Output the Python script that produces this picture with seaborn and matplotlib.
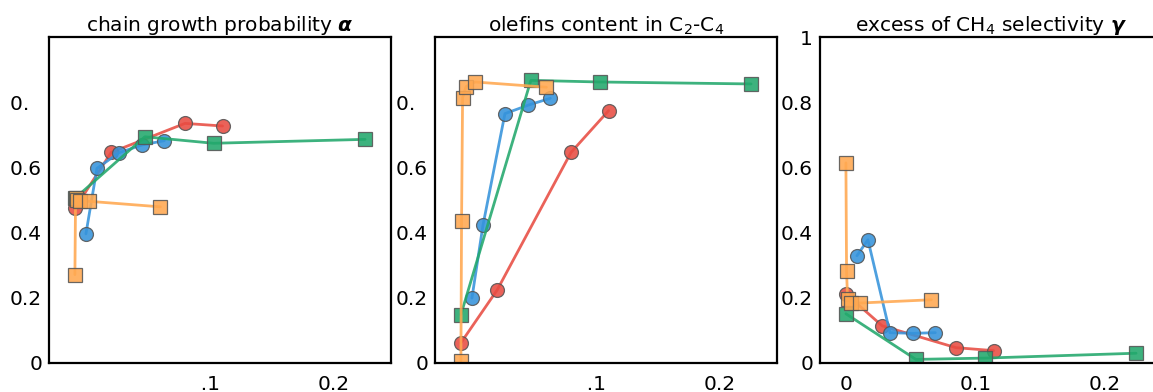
import matplotlib
matplotlib.use("Agg")
import matplotlib.pyplot as plt
import seaborn as sns
import pandas as pd

# Conversion (x) for each catalyst series
x_red = [0.0, 0.028, 0.085, 0.114]
x_blue = [0.0085, 0.017, 0.034, 0.052, 0.069]
x_green = [0.0, 0.054, 0.107, 0.224]
x_orange = [0.0, 0.0005, 0.0013, 0.004, 0.011, 0.066]

# Chain growth probability alpha
alpha_red = [0.474, 0.646, 0.735, 0.727]
alpha_blue = [0.396, 0.597, 0.645, 0.669, 0.682]
alpha_green = [0.505, 0.694, 0.674, 0.686]
alpha_orange = [0.271, 0.505, 0.500, 0.497, 0.496, 0.479]

# Olefins content in C2-C4
olef_red = [0.062, 0.224, 0.646, 0.774]
olef_blue = [0.199, 0.422, 0.765, 0.791, 0.812]
olef_green = [0.148, 0.867, 0.862, 0.856]
olef_orange = [0.006, 0.435, 0.814, 0.848, 0.862, 0.846]

# Excess of CH4 selectivity gamma
gamma_red = [0.212, 0.114, 0.047, 0.038]
gamma_blue = [0.329, 0.378, 0.093, 0.091, 0.093]
gamma_green = [0.151, 0.011, 0.015, 0.030]
gamma_orange = [0.614, 0.281, 0.196, 0.185, 0.184, 0.194]

series_names = ["S1", "S2", "S3", "S4"]
colors = {"S1": "#E84C42", "S2": "#3593DB", "S3": "#22A86C", "S4": "#FFA850"}
marker_map = {"S1": "o", "S2": "o", "S3": "s", "S4": "s"}

frames = []
for name, xs, a, o, g in [
    ("S1", x_red, alpha_red, olef_red, gamma_red),
    ("S2", x_blue, alpha_blue, olef_blue, gamma_blue),
    ("S3", x_green, alpha_green, olef_green, gamma_green),
    ("S4", x_orange, alpha_orange, olef_orange, gamma_orange),
]:
    frames.append(pd.DataFrame({"series": name, "x": xs, "alpha": a,
                                "olefins": o, "gamma": g}))
df = pd.concat(frames, ignore_index=True)

sns.set_style("white")
plt.rcParams["font.family"] = ["DejaVu Sans"]
plt.rcParams["text.color"] = "black"
plt.rcParams["axes.titlecolor"] = "black"
plt.rcParams["axes.edgecolor"] = "black"
plt.rcParams["axes.linewidth"] = 1.6

W, H = 1153, 392
fig = plt.figure(figsize=(W / 100, H / 100), dpi=100)

panels = [
    (49, "alpha", "chain growth probability $\\mathbfit{\\alpha}$"),
    (435, "olefins", "olefins content in C$_2$-C$_4$"),
    (820, "gamma", "excess of CH$_4$ selectivity $\\mathbfit{\\gamma}$"),
]
ax_w, ax_h, ax_bottom = 342, 326, H - 363

FS = 14.5
for i, (left, col, title) in enumerate(panels):
    ax = fig.add_axes([left / W, ax_bottom / H, ax_w / W, ax_h / H])
    sns.lineplot(data=df, x="x", y=col, hue="series", style="series",
                 hue_order=series_names, style_order=series_names,
                 palette=colors, markers=marker_map, dashes=False,
                 sort=False, estimator=None, legend=False, ax=ax,
                 linewidth=2.0, markersize=10, alpha=0.88,
                 markeredgecolor="#555555", markeredgewidth=0.9)
    ax.set_xlim(-0.02, 0.244)
    ax.set_ylim(0, 1)
    ax.set_xlabel("")
    ax.set_ylabel("")
    ax.set_title(title, fontsize=14.5, pad=4, color="black")
    if i < 2:
        ax.set_yticks([0, 0.2, 0.4, 0.6, 0.8])
        ax.set_yticklabels(["0", "0.2", "0.4", "0.6", "0.\u2007"])
        ax.set_xticks([0.1, 0.2])
        ax.set_xticklabels(["\u2007.1", "0.2"])
    else:
        ax.set_yticks([0, 0.2, 0.4, 0.6, 0.8, 1.0])
        ax.set_yticklabels(["0", "0.2", "0.4", "0.6", "0.8", "1"])
        ax.set_xticks([0, 0.1, 0.2])
        ax.set_xticklabels(["0", "0.1", "0.2"])
    ax.tick_params(axis="both", length=0, labelsize=FS, colors="black")
    ax.tick_params(axis="y", pad=5)
    ax.tick_params(axis="x", pad=9)
    for sp in ax.spines.values():
        sp.set_color("black")
        sp.set_linewidth(1.6)

fig.savefig("out.png", dpi=100)
